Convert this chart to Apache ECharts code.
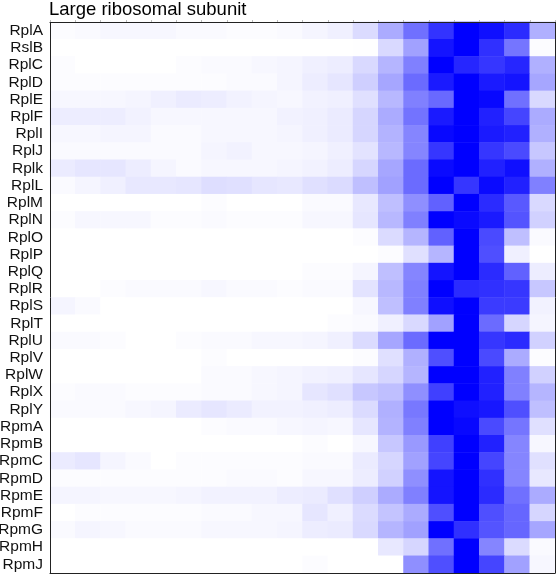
<!DOCTYPE html>
<html><head><meta charset="utf-8">
<script src="https://cdn.jsdelivr.net/npm/echarts@6/dist/echarts.min.js"></script>
<style>html,body{margin:0;padding:0;background:#fff}#c{width:556px;height:577px}</style>
</head><body><div id="c"></div>
<script>
const chartTitle = 'Large ribosomal subunit';
const proteins = ['RplA','RslB','RplC','RplD','RplE','RplF','RplI','RplJ','Rplk','RplL','RplM','RplN','RplO','RplP','RplQ','RplR','RplS','RplT','RplU','RplV','RplW','RplX','RplY','RpmA','RpmB','RpmC','RpmD','RpmE','RpmF','RpmG','RpmH','RpmJ'];
const fractions = ['1','2','3','4','5','6','7','8','9','10','11','12','13','14','15','16','17','18','19','20'];
// relative abundance per fraction (row = protein)
const intensity = [
  [0.01,0.02,0.03,0.03,0.03,0.02,0.02,0.01,0.01,0.02,0.04,0.06,0.14,0.33,0.56,0.80,1.00,0.94,0.83,0.31],
  [0,0,0,0,0,0,0,0,0,0,0,0,0.005,0.15,0.37,0.92,1.00,0.81,0.54,0.01],
  [0.01,0,0,0,0,0.01,0.02,0.02,0.03,0.04,0.06,0.07,0.15,0.29,0.50,1.00,0.85,0.79,0.85,0.31],
  [0.01,0.01,0.01,0.01,0.01,0.01,0.01,0.02,0.02,0.04,0.07,0.10,0.19,0.35,0.58,0.90,1.00,0.90,0.92,0.35],
  [0.03,0.03,0.03,0.04,0.06,0.08,0.07,0.05,0.04,0.03,0.05,0.06,0.12,0.28,0.50,0.59,1.00,0.97,0.56,0.15],
  [0.07,0.07,0.07,0.05,0.03,0.03,0.03,0.03,0.03,0.05,0.06,0.08,0.16,0.33,0.55,0.90,1.00,0.87,0.73,0.33],
  [0.03,0.03,0.04,0.04,0.02,0.02,0.03,0.03,0.03,0.04,0.06,0.08,0.16,0.30,0.48,0.97,1.00,0.90,0.87,0.31],
  [0.02,0.02,0.02,0.02,0.02,0.02,0.04,0.05,0.03,0.03,0.04,0.06,0.11,0.28,0.48,0.79,1.00,0.79,0.71,0.22],
  [0.08,0.10,0.10,0.07,0.04,0.02,0.03,0.03,0.03,0.04,0.05,0.07,0.16,0.35,0.58,0.96,1.00,0.87,0.94,0.31],
  [0.02,0.04,0.06,0.09,0.09,0.10,0.13,0.12,0.10,0.09,0.12,0.14,0.25,0.37,0.58,1.00,0.79,0.96,0.87,0.50],
  [0,0,0,0,0,0,0.01,0,0,0,0.02,0.02,0.09,0.25,0.44,0.62,1.00,0.83,0.65,0.15],
  [0.01,0.03,0.03,0.03,0.01,0.01,0.02,0.01,0.01,0.01,0.03,0.03,0.10,0.28,0.50,1.00,0.96,0.90,0.67,0.18],
  [0,0,0,0,0,0,0,0,0,0,0,0,0.01,0.14,0.29,0.62,1.00,0.71,0.25,0.02],
  [0,0,0,0,0,0,0,0,0,0,0,0,0,0.01,0.12,0.29,1.00,0.69,0.06,0],
  [0,0,0,0,0,0,0,0,0,0,0.01,0.01,0.04,0.25,0.48,0.92,1.00,0.83,0.62,0.07],
  [0,0,0.01,0.02,0.02,0.02,0.03,0.02,0.02,0.01,0.02,0.02,0.11,0.28,0.50,1.00,0.83,0.81,0.79,0.22],
  [0.04,0.02,0,0,0,0,0,0,0,0,0,0,0.03,0.25,0.50,0.94,1.00,0.77,0.77,0.05],
  [0,0,0,0,0,0,0,0,0,0,0,0.01,0.02,0.06,0.15,0.37,1.00,0.58,0.16,0.04],
  [0.02,0.02,0.01,0,0,0.01,0.02,0.02,0.03,0.03,0.04,0.06,0.14,0.35,0.58,1.00,1.00,0.79,0.83,0.18],
  [0,0,0,0,0,0,0.01,0,0,0,0,0,0.01,0.12,0.31,0.69,1.00,0.71,0.33,0.01],
  [0,0,0,0,0,0,0.02,0.02,0.03,0.04,0.05,0.06,0.10,0.16,0.29,1.00,1.00,0.87,0.50,0.18],
  [0.01,0.02,0.02,0.01,0.01,0.01,0.02,0.02,0.03,0.04,0.10,0.12,0.22,0.25,0.44,0.75,1.00,0.87,0.50,0.29],
  [0.02,0.02,0.02,0.03,0.04,0.08,0.10,0.08,0.05,0.05,0.06,0.07,0.14,0.31,0.53,1.00,0.94,0.91,0.69,0.25],
  [0,0,0,0,0,0,0.01,0.02,0.02,0.03,0.04,0.03,0.10,0.30,0.50,1.00,0.97,0.71,0.54,0.12],
  [0,0,0,0,0,0,0,0,0,0,0.01,0,0.03,0.22,0.40,0.75,1.00,0.87,0.48,0.03],
  [0.08,0.10,0.04,0.02,0,0.01,0.01,0.01,0.01,0.01,0.02,0.02,0.08,0.16,0.37,0.73,1.00,0.73,0.48,0.12],
  [0.01,0.01,0.01,0.01,0.01,0.01,0.01,0.02,0.02,0.01,0.03,0.03,0.07,0.18,0.44,0.92,1.00,0.81,0.48,0.09],
  [0.04,0.04,0.03,0.03,0.03,0.04,0.05,0.05,0.05,0.07,0.08,0.12,0.19,0.33,0.50,0.92,1.00,0.83,0.56,0.33],
  [0,0.01,0.01,0.01,0.01,0.01,0.02,0.02,0.03,0.03,0.10,0.06,0.14,0.23,0.33,0.69,1.00,0.69,0.60,0.16],
  [0.02,0.04,0.03,0.02,0.02,0.02,0.03,0.03,0.03,0.04,0.07,0.08,0.15,0.29,0.37,1.00,0.81,0.67,0.60,0.35],
  [0,0,0,0,0,0,0,0,0,0,0,0,0,0.09,0.16,0.56,1.00,0.48,0.14,0.02],
  [0,0,0,0,0,0,0,0,0,0,0.01,0,0,0,0.44,0.69,1.00,0.73,0.37,0.03]
];

const cells = [];
intensity.forEach((row, yi) => row.forEach((v, xi) => cells.push([xi, yi, v])));

const frame = { show: true, lineStyle: { color: '#222', width: 1 } };
const font = 'Liberation Sans, Arial, sans-serif';

const chart = echarts.init(document.getElementById('c'), null, { renderer: 'canvas' });
chart.setOption({
  animation: false,
  backgroundColor: '#fff',
  title: {
    text: chartTitle, left: 49, top: 0, padding: 0,
    textStyle: { fontSize: 18.5, fontWeight: 'normal', color: '#000', fontFamily: font }
  },
  grid: { left: 50, right: 1, top: 22, bottom: 4, containLabel: false, outerBoundsMode: 'none' },
  xAxis: [
    { type: 'category', data: fractions, position: 'bottom', axisLine: frame,
      axisTick: { show: false }, axisLabel: { show: false }, splitLine: { show: false }, z: 10 },
    { type: 'category', data: fractions, position: 'top', axisLine: frame,
      axisTick: { show: true, interval: 0, length: 2, lineStyle: { color: '#bbb' } },
      axisLabel: { show: false }, splitLine: { show: false }, z: 10 }
  ],
  yAxis: [
    { type: 'category', data: proteins, inverse: true, position: 'left', axisLine: frame,
      axisTick: { show: false },
      axisLabel: { show: true, interval: 0, fontSize: 15.5, color: '#111', fontFamily: font, margin: 7 },
      splitLine: { show: false }, z: 10 },
    { type: 'category', data: proteins, inverse: true, position: 'right', axisLine: frame,
      axisTick: { show: false }, axisLabel: { show: false }, splitLine: { show: false }, z: 10 }
  ],
  visualMap: {
    show: false, min: 0, max: 1, dimension: 2, seriesIndex: 0,
    inRange: { color: ['#ffffff', '#0000ff'] }
  },
  series: [{
    type: 'heatmap', xAxisIndex: 0, yAxisIndex: 0, data: cells,
    itemStyle: { borderWidth: 0 },
    emphasis: { disabled: true }
  }]
});
</script></body></html>
